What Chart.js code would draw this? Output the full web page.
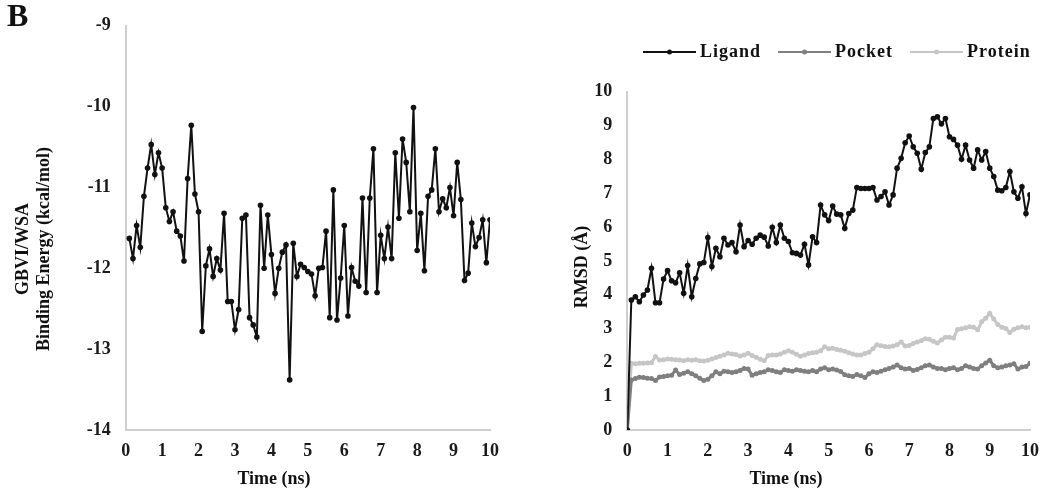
<!DOCTYPE html>
<html>
<head>
<meta charset="utf-8">
<script src="https://cdn.jsdelivr.net/npm/chart.js@4.4.1/dist/chart.umd.min.js"></script>
<style>
  html, body { margin: 0; padding: 0; background: #ffffff; }
  #wrap { position: relative; width: 1060px; height: 500px; overflow: hidden; }
  .panel { position: absolute; top: 0; width: 530px; height: 500px; }
  #left { left: 0; }
  #right { left: 530px; }
  #tag { position: absolute; left: 7px; top: -1px; font: bold 32px/32px "Liberation Serif", serif; color: #111; }
</style>
</head>
<body>
<div id="wrap">
  <div class="panel" id="left"><canvas id="energyChart" width="530" height="500"></canvas></div>
  <div class="panel" id="right"><canvas id="rmsdChart" width="530" height="500"></canvas></div>
  <div id="tag">B</div>
</div>
<script>
// ---- Simulation time (ns) ----
const TIME_ENERGY = [0.1,0.2,0.3,0.4,0.5,0.6,0.7,0.8,0.9,1.0,
  1.1,1.2,1.3,1.4,1.5,1.6,1.7,1.8,1.9,2.0,
  2.1,2.2,2.3,2.4,2.5,2.6,2.7,2.8,2.9,3.0,
  3.1,3.2,3.3,3.4,3.5,3.6,3.7,3.8,3.9,4.0,
  4.1,4.2,4.3,4.4,4.5,4.6,4.7,4.8,4.9,5.0,
  5.1,5.2,5.3,5.4,5.5,5.6,5.7,5.8,5.9,6.0,
  6.1,6.2,6.3,6.4,6.5,6.6,6.7,6.8,6.9,7.0,
  7.1,7.2,7.3,7.4,7.5,7.6,7.7,7.8,7.9,8.0,
  8.1,8.2,8.3,8.4,8.5,8.6,8.7,8.8,8.9,9.0,
  9.1,9.2,9.3,9.4,9.5,9.6,9.7,9.8,9.9,10.0];

const TIME_RMSD = [0,
  0.1,0.2,0.3,0.4,0.5,0.6,0.7,0.8,0.9,1.0,
  1.1,1.2,1.3,1.4,1.5,1.6,1.7,1.8,1.9,2.0,
  2.1,2.2,2.3,2.4,2.5,2.6,2.7,2.8,2.9,3.0,
  3.1,3.2,3.3,3.4,3.5,3.6,3.7,3.8,3.9,4.0,
  4.1,4.2,4.3,4.4,4.5,4.6,4.7,4.8,4.9,5.0,
  5.1,5.2,5.3,5.4,5.5,5.6,5.7,5.8,5.9,6.0,
  6.1,6.2,6.3,6.4,6.5,6.6,6.7,6.8,6.9,7.0,
  7.1,7.2,7.3,7.4,7.5,7.6,7.7,7.8,7.9,8.0,
  8.1,8.2,8.3,8.4,8.5,8.6,8.7,8.8,8.9,9.0,
  9.1,9.2,9.3,9.4,9.5,9.6,9.7,9.8,9.9,10.0];

// ---- GBVI/WSA binding energy (kcal/mol) ----
const BINDING_ENERGY = [
  -11.63,-11.88,-11.47,-11.74,-11.11,-10.76,-10.47,-10.84,-10.57,-10.76,
  -11.25,-11.42,-11.30,-11.54,-11.60,-11.91,-10.89,-10.23,-11.08,-11.30,
  -12.78,-11.97,-11.76,-12.10,-11.88,-12.02,-11.32,-12.41,-12.41,-12.76,
  -12.51,-11.38,-11.34,-12.61,-12.70,-12.85,-11.22,-12.00,-11.34,-11.83,
  -12.31,-12.00,-11.80,-11.71,-13.38,-11.69,-12.10,-11.95,-11.99,-12.04,
  -12.07,-12.34,-12.00,-11.99,-11.54,-12.61,-11.03,-12.64,-12.12,-11.47,
  -12.59,-11.99,-12.16,-12.22,-11.13,-12.30,-11.13,-10.52,-12.30,-11.59,
  -11.88,-11.49,-11.88,-10.57,-11.38,-10.40,-10.69,-11.30,-10.01,-11.78,
  -11.32,-12.03,-11.11,-11.03,-10.52,-11.30,-11.14,-11.25,-11.00,-11.35,
  -10.69,-11.15,-12.15,-12.06,-11.44,-11.73,-11.62,-11.40,-11.93,-11.40];

// ---- RMSD (Å) ----
const RMSD_LIGAND = [0,
  3.84,3.94,3.79,3.99,4.14,4.78,3.76,3.76,4.46,4.71,
  4.41,4.35,4.65,4.04,4.86,3.94,4.48,4.91,4.95,5.69,
  4.83,5.37,5.12,5.67,5.47,5.54,5.27,6.06,5.42,5.60,
  5.49,5.67,5.76,5.70,5.44,5.99,5.54,6.06,5.67,5.57,
  5.24,5.22,5.17,5.49,4.88,5.71,5.54,6.65,6.36,6.19,
  6.62,6.38,6.36,5.96,6.40,6.50,7.17,7.14,7.14,7.14,
  7.17,6.80,6.90,7.04,6.65,6.95,7.74,8.03,8.49,8.69,
  8.37,8.18,7.71,8.20,8.37,9.21,9.26,9.05,9.21,8.67,
  8.59,8.42,8.00,8.42,7.98,7.74,8.28,7.98,8.23,7.74,
  7.49,7.09,7.07,7.17,7.64,7.04,6.85,7.19,6.40,6.95];

const RMSD_POCKET = [0,
  1.48,1.52,1.56,1.55,1.53,1.52,1.46,1.57,1.58,1.60,
  1.62,1.77,1.64,1.68,1.72,1.66,1.60,1.53,1.46,1.50,
  1.60,1.72,1.66,1.74,1.72,1.70,1.72,1.76,1.82,1.80,
  1.62,1.66,1.70,1.72,1.78,1.76,1.72,1.70,1.78,1.76,
  1.74,1.78,1.76,1.74,1.72,1.76,1.72,1.80,1.84,1.78,
  1.80,1.77,1.73,1.63,1.60,1.58,1.64,1.60,1.55,1.66,
  1.72,1.70,1.74,1.78,1.82,1.86,1.92,1.84,1.80,1.82,
  1.76,1.79,1.84,1.90,1.92,1.86,1.82,1.82,1.78,1.82,
  1.84,1.78,1.82,1.90,1.86,1.82,1.80,1.90,1.98,2.06,
  1.90,1.84,1.86,1.90,1.92,1.96,1.80,1.86,1.88,1.97];

const RMSD_PROTEIN = [0,
  1.97,1.96,1.97,1.97,1.98,1.99,2.17,2.07,2.08,2.10,
  2.09,2.08,2.07,2.05,2.08,2.06,2.08,2.05,2.04,2.06,
  2.10,2.14,2.18,2.22,2.27,2.25,2.23,2.19,2.22,2.27,
  2.20,2.15,2.09,2.05,2.20,2.22,2.22,2.25,2.30,2.34,
  2.30,2.24,2.18,2.22,2.26,2.28,2.30,2.34,2.46,2.40,
  2.42,2.38,2.36,2.33,2.28,2.25,2.22,2.22,2.26,2.30,
  2.40,2.52,2.49,2.47,2.46,2.48,2.52,2.60,2.48,2.50,
  2.56,2.60,2.64,2.70,2.68,2.62,2.57,2.66,2.74,2.74,
  2.72,2.97,2.99,3.02,3.05,3.04,2.96,3.20,3.30,3.45,
  3.28,3.12,3.04,3.00,2.88,2.98,3.02,3.05,3.02,3.04];

const ENERGY_TICKS = [-14, -13, -12, -11, -10, -9];
const RMSD_TICKS = [0, 1, 2, 3, 4, 5, 6, 7, 8, 9, 10];
const SERIES_NAMES = ['Ligand', 'Pocket', 'Protein'];

// ---- shared styling ----
const SERIF = '"Liberation Serif", "Times New Roman", serif';
const AXIS_COLOR = '#cfcfcf';
const TEXT_COLOR = '#1a1a1a';
const tickFont = { family: SERIF, size: 18, weight: 'bold' };
const titleFont = { family: SERIF, size: 18, weight: 'bold' };

function points(times, values) {
  return values.map((v, i) => ({ x: times[i], y: v }));
}

function timeAxis() {
  return {
    type: 'linear', min: 0, max: 10,
    ticks: { stepSize: 1, padding: 11, color: TEXT_COLOR, font: tickFont, maxRotation: 0 },
    grid: { display: false, drawTicks: false },
    border: { display: true, color: AXIS_COLOR, width: 2 },
    title: { display: false },
    afterFit(scale) { scale.height = 70; }
  };
}

function fixedTicks(list) {
  return function (scale) { scale.ticks = list.map(v => ({ value: v })); };
}

// axis captions placed by hand: rotated lines on the left, "Time (ns)" under the x axis
function axisCaptions(id, xCaptionX, rotated) {
  return {
    id,
    afterDraw(chart) {
      const ctx = chart.ctx;
      ctx.save();
      ctx.font = `bold 18px ${SERIF}`;
      ctx.fillStyle = '#111';
      ctx.textAlign = 'center';
      ctx.textBaseline = 'middle';
      ctx.fillText('Time (ns)', xCaptionX, 479);
      rotated.forEach(([txt, x, y]) => {
        ctx.save();
        ctx.translate(x, y);
        ctx.rotate(-Math.PI / 2);
        ctx.fillText(txt, 0, 0);
        ctx.restore();
      });
      ctx.restore();
    }
  };
}

// series key drawn above the RMSD plot
const seriesKey = {
  id: 'seriesKey',
  afterDraw(chart) {
    const ctx = chart.ctx;
    ctx.save();
    ctx.font = `bold 18px ${SERIF}`;
    ctx.textBaseline = 'middle';
    ctx.textAlign = 'left';
    if ('letterSpacing' in ctx) ctx.letterSpacing = '1px';
    let x = 113;
    const y = 52;
    chart.data.datasets.forEach(ds => {
      ctx.strokeStyle = ds.borderColor;
      ctx.lineWidth = 2;
      ctx.beginPath();
      ctx.moveTo(x, y);
      ctx.lineTo(x + 53, y);
      ctx.stroke();
      ctx.fillStyle = ds.pointBackgroundColor;
      ctx.beginPath();
      ctx.arc(x + 26.5, y, 2.5, 0, Math.PI * 2);
      ctx.fill();
      ctx.fillStyle = '#111';
      ctx.fillText(ds.label, x + 57, y);
      x += 57 + ctx.measureText(ds.label).width + 17;
    });
    ctx.restore();
  }
};

new Chart(document.getElementById('energyChart'), {
  type: 'line',
  data: {
    datasets: [{
      label: 'GBVI/WSA Binding Energy',
      data: points(TIME_ENERGY, BINDING_ENERGY),
      borderColor: '#111111',
      backgroundColor: '#111111',
      pointBackgroundColor: '#111111',
      pointBorderColor: '#111111',
      borderWidth: 2,
      pointRadius: 2.8,
      pointBorderWidth: 0,
      tension: 0,
      fill: false
    }]
  },
  options: {
    responsive: false,
    animation: false,
    layout: { padding: { left: 0, top: 17, right: 40, bottom: 0 } },
    plugins: { legend: { display: false }, tooltip: { enabled: false } },
    scales: {
      x: timeAxis(),
      y: {
        type: 'linear', min: -14, max: -9,
        afterBuildTicks: fixedTicks(ENERGY_TICKS),
        ticks: { padding: 15, color: TEXT_COLOR, font: tickFont },
        grid: { display: false, drawTicks: false },
        border: { display: true, color: AXIS_COLOR, width: 2 },
        title: { display: false },
        afterFit(scale) { scale.width = 125.7; }
      }
    }
  },
  plugins: [axisCaptions('energyCaptions', 274, [['GBVI/WSA', 23.6, 249], ['Binding Energy (kcal/mol)', 44.6, 249]])]
});

new Chart(document.getElementById('rmsdChart'), {
  type: 'line',
  data: {
    datasets: [
      {
        label: SERIES_NAMES[0],
        data: points(TIME_RMSD, RMSD_LIGAND),
        borderColor: '#111111', pointBackgroundColor: '#111111', pointBorderColor: '#111111',
        borderWidth: 2, pointRadius: 2.8, pointBorderWidth: 0, tension: 0, fill: false
      },
      {
        label: SERIES_NAMES[1],
        data: points(TIME_RMSD, RMSD_POCKET),
        borderColor: '#7f7f7f', pointBackgroundColor: '#7f7f7f', pointBorderColor: '#7f7f7f',
        borderWidth: 3, pointRadius: 2.5, pointBorderWidth: 0, tension: 0, fill: false
      },
      {
        label: SERIES_NAMES[2],
        data: points(TIME_RMSD, RMSD_PROTEIN),
        borderColor: '#c6c6c6', pointBackgroundColor: '#c6c6c6', pointBorderColor: '#c6c6c6',
        borderWidth: 3, pointRadius: 2.5, pointBorderWidth: 0, tension: 0, fill: false
      }
    ]
  },
  options: {
    responsive: false,
    animation: false,
    layout: { padding: { left: 0, top: 91.7, right: 30, bottom: 0 } },
    plugins: { legend: { display: false }, tooltip: { enabled: false } },
    scales: {
      x: timeAxis(),
      y: {
        type: 'linear', min: 0, max: 10,
        afterBuildTicks: fixedTicks(RMSD_TICKS),
        ticks: { padding: 15, color: TEXT_COLOR, font: tickFont },
        grid: { display: false, drawTicks: false },
        border: { display: true, color: AXIS_COLOR, width: 2 },
        title: { display: false },
        afterFit(scale) { scale.width = 97.3; }
      }
    }
  },
  plugins: [axisCaptions('rmsdCaptions', 256, [['RMSD (Å)', 52, 267]]), seriesKey]
});
</script>
</body>
</html>
